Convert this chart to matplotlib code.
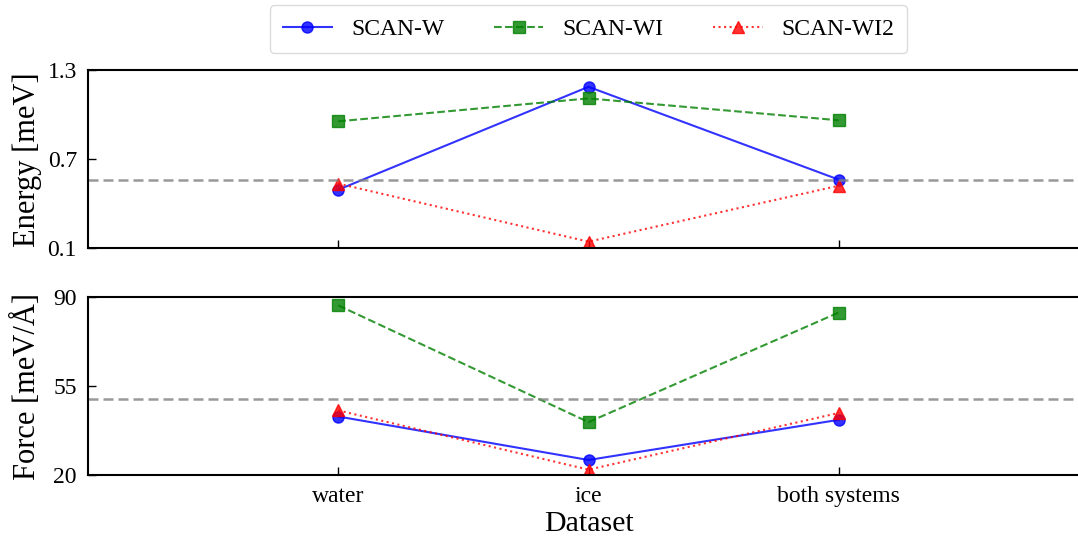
import numpy as np
import matplotlib
matplotlib.use("Agg")
import matplotlib.pyplot as plt

plt.rcParams['font.family'] = ['Liberation Serif', 'DejaVu Serif']
plt.rcParams['mathtext.fontset'] = 'stix'

# data
datasets = ["water", "ice", "both systems"]
models = ["SCAN-W", "SCAN-WI", "SCAN-WI2"]
energy_w = [0.495, 1.187, 0.563]
energy_wi = [0.955, 1.109, 0.962]
energy_wi2 = [0.536, 0.146, 0.522]
force_w = [43.0, 25.9, 41.7]
force_wi = [86.7, 40.8, 83.9]
force_wi2 = [45.4, 22.1, 44.4]
energy_ref = 0.561
force_ref = 50.0

colors = ["blue", "green", "red"]
markers = ["o", "s", "^"]
styles = ["-", "--", ":"]

fig = plt.figure(figsize=(10.78, 5.41), dpi=100)
W, H = 1078, 541
ax1 = fig.add_axes([88 / W, 1 - 248.5 / H, 1001 / W, 178.5 / H])
ax2 = fig.add_axes([88 / W, 1 - 475 / H, 1001 / W, 178 / H])

x = np.arange(len(datasets))
for ax, series, ref in [(ax1, [energy_w, energy_wi, energy_wi2], energy_ref),
                        (ax2, [force_w, force_wi, force_wi2], force_ref)]:
    for vals, name, c, m, ls in zip(series, models, colors, markers, styles):
        ax.plot(x, vals, color=c, marker=m, linestyle=ls, lw=1.5, ms=8,
                alpha=0.8, label=name)
    ax.axhline(ref, color='gray', ls='--', lw=1.8, alpha=0.8, dashes=(4, 2))
    ax.set_xlim(-1.0, 3.0)
    ax.set_xticks(x)
    ax.tick_params(direction='in', length=5.5, width=1, labelsize=17,
                   top=False, right=False, pad=8)
    for s in ax.spines.values():
        s.set_linewidth(1.5)

ax1.set_ylim(0.1, 1.3)
ax1.set_yticks([0.1, 0.7, 1.3])
ax1.set_xticklabels([])
ax1.set_ylabel("Energy [meV]", fontsize=22)

ax2.set_ylim(20, 90)
ax2.set_yticks([20, 55, 90])
ax2.set_xticklabels(datasets)
ax2.set_ylabel("Force [meV/Å]", fontsize=22)
ax2.set_xlabel("Dataset", fontsize=21.5)

ax1.yaxis.set_label_coords(-0.046, 0.5)
ax2.yaxis.set_label_coords(-0.046, 0.5)
ax2.xaxis.set_label_coords(0.5, -0.205)

ax1.legend(loc='lower center', bbox_to_anchor=(0.5, 1.03), ncol=3,
           fontsize=17, frameon=True, fancybox=True, edgecolor='lightgray',
           handlelength=2.1, handletextpad=0.8, columnspacing=2.1,
           borderpad=0.55)

fig.savefig("out.png", dpi=100)
